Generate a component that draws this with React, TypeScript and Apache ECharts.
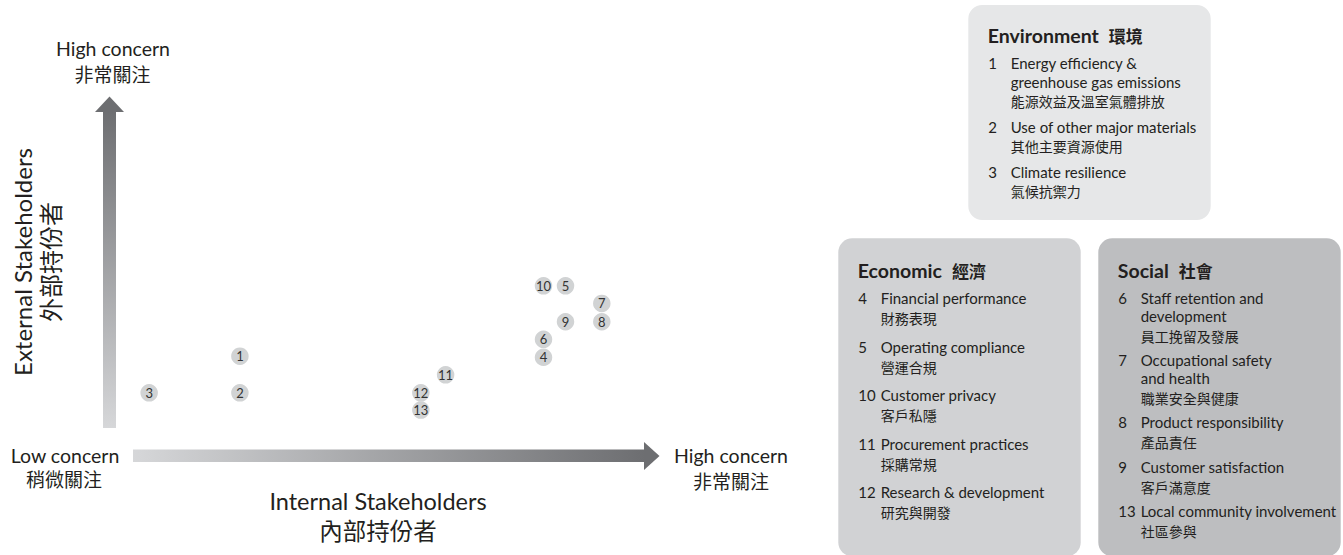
import React, { useEffect, useRef } from "react";
import * as echarts from "echarts";

// ---- data ----
const issueIds = ["1", "2", "3", "4", "5", "6", "7", "8", "9", "10", "11", "12", "13"];
// internal stakeholders' concern (x) and external stakeholders' concern (y), 0-10 scale
const internalConcern = [2.38, 2.38, 0.73, 7.9, 8.3, 7.9, 8.96, 8.96, 8.3, 7.9, 6.12, 5.67, 5.67];
const externalConcern = [2.78, 1.76, 1.76, 2.75, 4.74, 3.25, 4.25, 3.74, 3.74, 4.74, 2.26, 1.76, 1.28];

const lowLabel = ["Low concern", "稍微關注"];
const highLabel = ["High concern", "非常關注"];
const internalTitle = ["Internal Stakeholders", "內部持份者"];
const externalTitle = ["External Stakeholders", "外部持份者"];

const envTitle = ["Environment", "環境"];
const envItems = [
  { no: "1", en: ["Energy efficiency &", "greenhouse gas emissions"], zh: "能源效益及溫室氣體排放" },
  { no: "2", en: ["Use of other major materials"], zh: "其他主要資源使用" },
  { no: "3", en: ["Climate resilience"], zh: "氣候抗禦力" },
];
const ecoTitle = ["Economic", "經濟"];
const ecoItems = [
  { no: "4", en: ["Financial performance"], zh: "財務表現" },
  { no: "5", en: ["Operating compliance"], zh: "營運合規" },
  { no: "10", en: ["Customer privacy"], zh: "客戶私隱" },
  { no: "11", en: ["Procurement practices"], zh: "採購常規" },
  { no: "12", en: ["Research & development"], zh: "研究與開發" },
];
const socTitle = ["Social", "社會"];
const socItems = [
  { no: "6", en: ["Staff retention and", "development"], zh: "員工挽留及發展" },
  { no: "7", en: ["Occupational safety", "and health"], zh: "職業安全與健康" },
  { no: "8", en: ["Product responsibility"], zh: "產品責任" },
  { no: "9", en: ["Customer satisfaction"], zh: "客戶滿意度" },
  { no: "13", en: ["Local community involvement"], zh: "社區參與" },
];

// ---- styles ----
const EN = "Lato, 'Open Sans', sans-serif";
const ZH = "'Noto Sans CJK TC', 'Noto Sans CJK SC', sans-serif";
const INK = "#231f20";
const DARK = "#6d6e71";
const LIGHT = "#d6d7d9";

type Item = { no: string; en: string[]; zh: string };
type BoxCfg = {
  x: number; y: number; w: number; h: number; fill: string;
  titleY: number; firstY: number; engStep: number; cjkStep: number; itemStep: number;
};

function txt(x: number, y: number, text: string, font: string, size: number, extra: any = {}) {
  return {
    type: "text",
    x,
    y,
    z: 10,
    style: {
      text,
      fontFamily: font,
      fontSize: size,
      lineHeight: Math.round(size * 1.05),
      fill: INK,
      align: "left",
      verticalAlign: "middle",
      ...extra,
    },
  };
}

function boxElements(cfg: BoxCfg, title: string[], items: Item[]) {
  const els: any[] = [];
  els.push({
    type: "rect",
    z: 1,
    shape: { x: cfg.x, y: cfg.y, width: cfg.w, height: cfg.h, r: 14 },
    style: { fill: cfg.fill },
  });
  els.push({
    type: "text",
    x: cfg.x + 19.5,
    y: cfg.titleY,
    z: 10,
    style: {
      text: `{a|${title[0]}}{s|  }{b|${title[1]}}`,
      verticalAlign: "middle",
      rich: {
        a: { fontFamily: EN, fontSize: 19.5, fontWeight: "bold", fill: INK },
        s: { fontFamily: EN, fontSize: 19.5, fill: INK },
        b: { fontFamily: ZH, fontSize: 17, fontWeight: "bold", fill: INK },
      },
    },
  });
  let y = cfg.firstY;
  items.forEach((it, i) => {
    if (i > 0) y += cfg.itemStep;
    els.push(txt(cfg.x + 20, y, it.no, EN, 15));
    it.en.forEach((line, j) => {
      if (j > 0) y += cfg.engStep;
      els.push(txt(cfg.x + 42.4, y, line, EN, 15));
    });
    y += cfg.cjkStep;
    els.push(txt(cfg.x + 42.4, y, it.zh, ZH, 14));
  });
  return els;
}

export default function App() {
  const ref = useRef<HTMLDivElement>(null);
  useEffect(() => {
    if (!ref.current) return;
    const chart = echarts.init(ref.current, null, { renderer: "svg" });

    const graphics: any[] = [
      // vertical arrow
      {
        type: "rect",
        shape: { x: 103, y: 110, width: 13, height: 318 },
        style: {
          fill: new echarts.graphic.LinearGradient(0, 0, 0, 1, [
            { offset: 0, color: DARK },
            { offset: 1, color: LIGHT },
          ]),
        },
      },
      {
        type: "polygon",
        shape: { points: [[95, 112], [124, 112], [109.5, 96.5]] },
        style: { fill: DARK },
      },
      // horizontal arrow
      {
        type: "rect",
        shape: { x: 133, y: 449.5, width: 512, height: 12.5 },
        style: {
          fill: new echarts.graphic.LinearGradient(0, 0, 1, 0, [
            { offset: 0, color: LIGHT },
            { offset: 1, color: DARK },
          ]),
        },
      },
      {
        type: "polygon",
        shape: { points: [[644, 442], [644, 470], [659.5, 456]] },
        style: { fill: DARK },
      },
      // axis end labels
      txt(113, 48.5, highLabel[0], EN, 19.5, { align: "center" }),
      txt(112.5, 73, highLabel[1], ZH, 19, { align: "center" }),
      txt(65, 455, lowLabel[0], EN, 19.5, { align: "center" }),
      txt(64, 478.5, lowLabel[1], ZH, 19, { align: "center" }),
      txt(731, 455, highLabel[0], EN, 19.5, { align: "center" }),
      txt(731, 480, highLabel[1], ZH, 19, { align: "center" }),
      // axis titles
      txt(378, 500.5, internalTitle[0], EN, 23.5, { align: "center" }),
      txt(378, 529.5, internalTitle[1], ZH, 23.5, { align: "center" }),
      { ...txt(22, 262, externalTitle[0], EN, 24, { align: "center" }), rotation: Math.PI / 2 },
      { ...txt(49.5, 262, externalTitle[1], ZH, 24, { align: "center" }), rotation: Math.PI / 2 },
      // category boxes
      ...boxElements(
        { x: 968.3, y: 5, w: 242.4, h: 215, fill: "#e6e7e8", titleY: 35.5, firstY: 63.3, engStep: 18.4, cjkStep: 19, itemStep: 26 },
        envTitle,
        envItems
      ),
      ...boxElements(
        { x: 838.3, y: 238.3, w: 242.4, h: 318, fill: "#d1d2d4", titleY: 270, firstY: 298.3, engStep: 17.7, cjkStep: 20, itemStep: 28.4 },
        ecoTitle,
        ecoItems
      ),
      ...boxElements(
        { x: 1098.3, y: 238.3, w: 242.4, h: 318, fill: "#bdbec0", titleY: 270, firstY: 298.3, engStep: 17.7, cjkStep: 20, itemStep: 24.3 },
        socTitle,
        socItems
      ),
    ];

    chart.setOption({
      animation: false,
      grid: { left: 109, top: 97, width: 550, height: 359 },
      xAxis: { type: "value", min: 0, max: 10, show: false },
      yAxis: { type: "value", min: 0, max: 10, show: false },
      graphic: { elements: graphics },
      series: [
        {
          type: "scatter",
          symbol: "circle",
          symbolSize: 17.5,
          z: 5,
          itemStyle: { color: "#d1d3d4", opacity: 1 },
          label: {
            show: true,
            position: "inside",
            formatter: (p: any) => p.name,
            fontFamily: EN,
            fontSize: 13,
            color: "#333333",
          },
          emphasis: { disabled: true },
          data: issueIds.map((id, i) => ({ name: id, value: [internalConcern[i], externalConcern[i]] })),
        },
      ],
    });
    return () => chart.dispose();
  }, []);
  return (
    <div
      ref={ref}
      style={{ position: "fixed", left: 0, top: 0, width: 1343, height: 555, background: "#ffffff" }}
    />
  );
}
